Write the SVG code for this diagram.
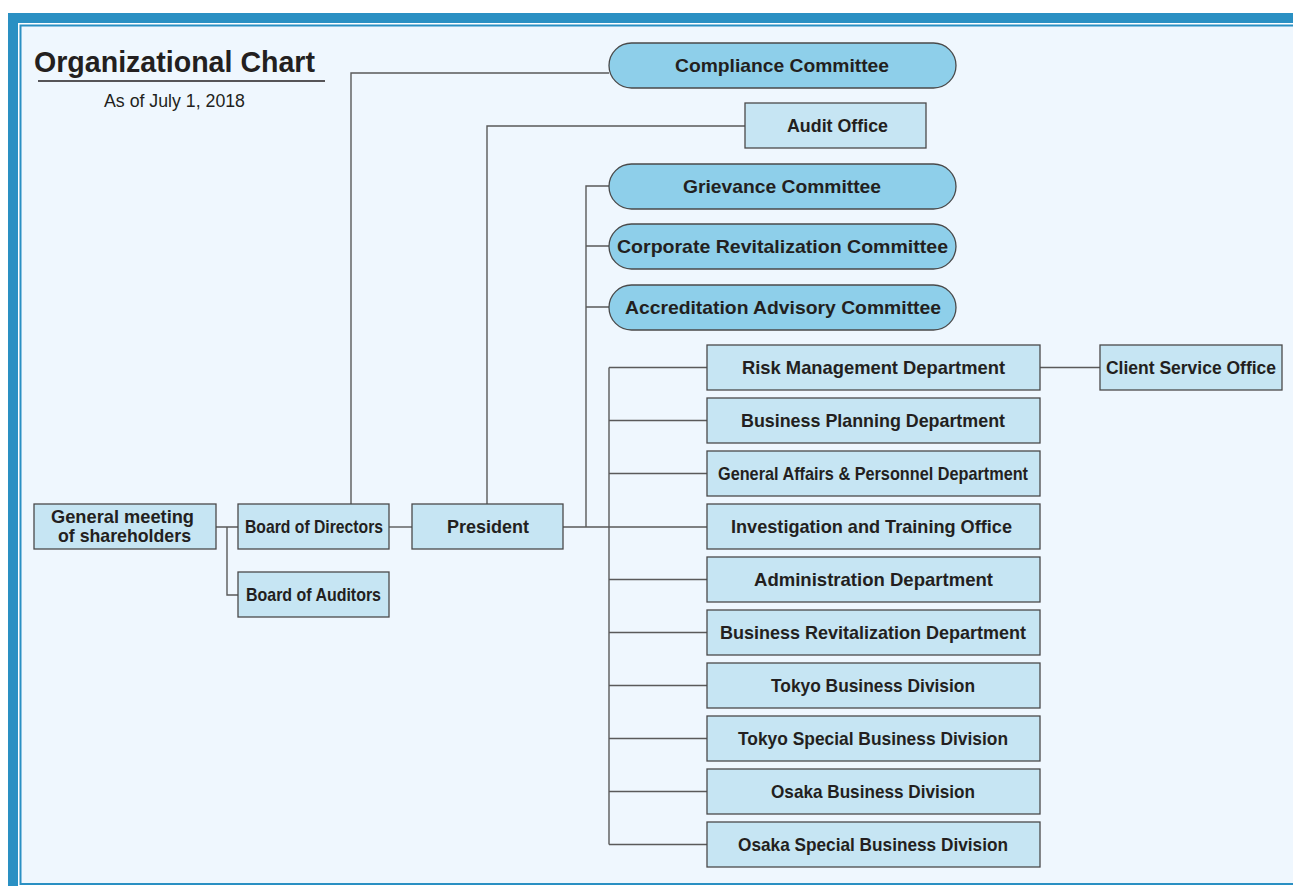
<svg xmlns="http://www.w3.org/2000/svg" width="1293" height="886" viewBox="0 0 1293 886">
  <style>
    .frame { fill: #2a90c3; }
    .frameline { stroke: #2a90c3; stroke-width: 2; fill: none; }
    .box { fill: #c6e5f3; stroke: #4a4a4a; stroke-width: 1.3; }
    .pill { fill: #8ecfea; stroke: #4a4a4a; stroke-width: 1.3; }
    .lbl { font-family: "Liberation Sans", Arial, sans-serif; font-weight: bold; font-size: 19px; fill: #231f20; text-anchor: middle; }
    .conn { stroke: #5a5a5a; stroke-width: 1.4; fill: none; }
  </style>

  <!-- background and frame -->
  <rect x="0" y="0" width="1293" height="886" fill="#ffffff"/>
  <rect x="20" y="25" width="1273" height="859" fill="#eff7fe"/>
  <rect class="frame" x="8" y="13" width="1285" height="10"/>
  <rect class="frame" x="8" y="13" width="10" height="873"/>
  <path class="frameline" d="M1293 25.5 H20.5 V884 H1293"/>

  <!-- heading -->
  <g id="title">
    <text x="34" y="72" font-family="Liberation Sans, Arial, sans-serif" font-weight="bold" font-size="30" fill="#231f20" textLength="281" lengthAdjust="spacingAndGlyphs">Organizational Chart</text>
    <line x1="38" y1="81" x2="325" y2="81" stroke="#231f20" stroke-width="1.3"/>
    <text x="174.5" y="107" font-family="Liberation Sans, Arial, sans-serif" font-size="17.5" fill="#231f20" text-anchor="middle" textLength="141" lengthAdjust="spacingAndGlyphs">As of July 1, 2018</text>
  </g>

  <!-- connectors -->
  <g id="connectors">
    <path class="conn" d="M216 527 H238 M227 527 V595 H238"/>
    <path class="conn" d="M389 527 H412"/>
    <path class="conn" d="M351 504 V73 H609"/>
    <path class="conn" d="M487 504 V126 H745"/>
    <path class="conn" d="M563 527 H707 M586 527 V186 H609 M586 246 H609 M586 307 H609"/>
    <path class="conn" d="M609 367.5 V844.5 M609 367.5 H707 M609 420.5 H707 M609 473.5 H707 M609 579.5 H707 M609 632.5 H707 M609 685.5 H707 M609 738.5 H707 M609 791.5 H707 M609 844.5 H707"/>
    <path class="conn" d="M1040 367.5 H1100"/>
  </g>

  <g id="general-meeting">
    <rect class="box" x="34" y="504" width="182" height="45"/>
    <text class="lbl" x="122.5" y="523" textLength="143" lengthAdjust="spacingAndGlyphs">General meeting</text>
    <text class="lbl" x="124.5" y="542" textLength="133" lengthAdjust="spacingAndGlyphs">of shareholders</text>
  </g>
  <g id="board-of-directors">
    <rect class="box" x="238" y="504" width="151" height="45"/>
    <text class="lbl" x="314" y="533" textLength="138" lengthAdjust="spacingAndGlyphs">Board of Directors</text>
  </g>
  <g id="board-of-auditors">
    <rect class="box" x="238" y="572" width="151" height="45"/>
    <text class="lbl" x="313.5" y="601" textLength="135" lengthAdjust="spacingAndGlyphs">Board of Auditors</text>
  </g>
  <g id="president">
    <rect class="box" x="412" y="504" width="151" height="45"/>
    <text class="lbl" x="488" y="533" textLength="82" lengthAdjust="spacingAndGlyphs">President</text>
  </g>

  <g id="compliance-committee">
    <rect class="pill" x="609" y="43" width="347" height="45" rx="22.5"/>
    <text class="lbl" x="782" y="72" textLength="214" lengthAdjust="spacingAndGlyphs">Compliance Committee</text>
  </g>
  <g id="audit-office">
    <rect class="box" x="745" y="103" width="181" height="45"/>
    <text class="lbl" x="837.5" y="132" textLength="101" lengthAdjust="spacingAndGlyphs">Audit Office</text>
  </g>
  <g id="grievance-committee">
    <rect class="pill" x="609" y="164" width="347" height="45" rx="22.5"/>
    <text class="lbl" x="782" y="193" textLength="198" lengthAdjust="spacingAndGlyphs">Grievance Committee</text>
  </g>
  <g id="corporate-revitalization-committee">
    <rect class="pill" x="609" y="224" width="347" height="45" rx="22.5"/>
    <text class="lbl" x="782.5" y="253" textLength="331" lengthAdjust="spacingAndGlyphs">Corporate Revitalization Committee</text>
  </g>
  <g id="accreditation-advisory-committee">
    <rect class="pill" x="609" y="285" width="347" height="45" rx="22.5"/>
    <text class="lbl" x="783" y="314" textLength="316" lengthAdjust="spacingAndGlyphs">Accreditation Advisory Committee</text>
  </g>

  <g id="risk-management">
    <rect class="box" x="707" y="345" width="333" height="45"/>
    <text class="lbl" x="873.5" y="374" textLength="263" lengthAdjust="spacingAndGlyphs">Risk Management Department</text>
  </g>
  <g id="client-service-office">
    <rect class="box" x="1100" y="345" width="182" height="45"/>
    <text class="lbl" x="1191" y="374" textLength="170" lengthAdjust="spacingAndGlyphs">Client Service Office</text>
  </g>
  <g id="business-planning">
    <rect class="box" x="707" y="398" width="333" height="45"/>
    <text class="lbl" x="873" y="427" textLength="264" lengthAdjust="spacingAndGlyphs">Business Planning Department</text>
  </g>
  <g id="general-affairs">
    <rect class="box" x="707" y="451" width="333" height="45"/>
    <text class="lbl" x="873" y="480" textLength="310" lengthAdjust="spacingAndGlyphs">General Affairs &amp; Personnel Department</text>
  </g>
  <g id="investigation-training">
    <rect class="box" x="707" y="504" width="333" height="45"/>
    <text class="lbl" x="871.5" y="533" textLength="281" lengthAdjust="spacingAndGlyphs">Investigation and Training Office</text>
  </g>
  <g id="administration">
    <rect class="box" x="707" y="557" width="333" height="45"/>
    <text class="lbl" x="873.5" y="586" textLength="239" lengthAdjust="spacingAndGlyphs">Administration Department</text>
  </g>
  <g id="business-revitalization">
    <rect class="box" x="707" y="610" width="333" height="45"/>
    <text class="lbl" x="873" y="639" textLength="306" lengthAdjust="spacingAndGlyphs">Business Revitalization Department</text>
  </g>
  <g id="tokyo-business">
    <rect class="box" x="707" y="663" width="333" height="45"/>
    <text class="lbl" x="873" y="692" textLength="204" lengthAdjust="spacingAndGlyphs">Tokyo Business Division</text>
  </g>
  <g id="tokyo-special-business">
    <rect class="box" x="707" y="716" width="333" height="45"/>
    <text class="lbl" x="873" y="745" textLength="270" lengthAdjust="spacingAndGlyphs">Tokyo Special Business Division</text>
  </g>
  <g id="osaka-business">
    <rect class="box" x="707" y="769" width="333" height="45"/>
    <text class="lbl" x="873" y="798" textLength="204" lengthAdjust="spacingAndGlyphs">Osaka Business Division</text>
  </g>
  <g id="osaka-special-business">
    <rect class="box" x="707" y="822" width="333" height="45"/>
    <text class="lbl" x="873" y="851" textLength="270" lengthAdjust="spacingAndGlyphs">Osaka Special Business Division</text>
  </g>
</svg>
